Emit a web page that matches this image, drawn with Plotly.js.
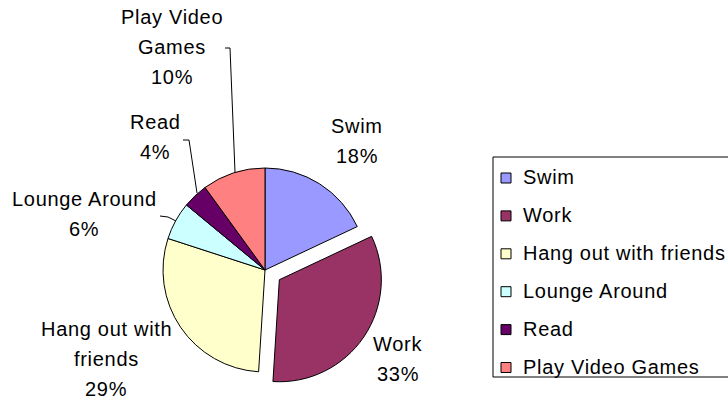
<!DOCTYPE html>
<html>
<head>
<meta charset="utf-8">
<script src="https://cdn.plot.ly/plotly-3.0.1.min.js"></script>
<style>
html,body{margin:0;padding:0;background:#fff;}
#chart{width:728px;height:400px;}
.annotation-text{letter-spacing:0.7px;}
</style>
</head>
<body>
<div id="chart"></div>
<script>
// ---- data ----
const categories = ["Swim", "Work", "Hang out with friends", "Lounge Around", "Read", "Play Video Games"];
const values = [18, 33, 29, 6, 4, 10];
const colors = ["#9999FF", "#993366", "#FFFFCC", "#CCFFFF", "#660066", "#FF8080"];
const pulls = [0, 0.17, 0, 0, 0, 0];
// label line breaks as shown on the chart
const labelLines = [["Swim"], ["Work"], ["Hang out with", "friends"], ["Lounge Around"], ["Read"], ["Play Video", "Games"]];

// ---- layout helpers (pixel -> paper) ----
const W = 728, H = 400;
const px = x => x / W;
const py = y => 1 - y / H;

// label placement (centre x, first-line centre y) in pixels
const labelPos = [[357, 126], [398, 344], [106, 329], [84, 199], [155, 122], [172, 17]];
const lineGap = 30;
const FONT = "Liberation Sans, Arial, sans-serif";

const total = values.reduce((a, b) => a + b, 0);
const annotations = [];
categories.forEach((c, i) => {
  const lines = labelLines[i].concat([Math.round(values[i] / total * 100) + "%"]);
  lines.forEach((t, k) => {
    annotations.push({
      xref: "paper", yref: "paper", x: px(labelPos[i][0]), y: py(labelPos[i][1] + k * lineGap),
      xanchor: "center", yanchor: "middle", showarrow: false, text: t,
      font: {family: FONT, size: 20, color: "#000"}
    });
  });
});

// leader lines
function pathPx(pts) {
  return pts.map((p, j) => (j ? "L" : "M") + px(p[0]) + "," + py(p[1])).join(" ");
}
const leaders = [
  [[225, 48], [230, 48], [235, 172]],
  [[183, 140], [189, 140], [197, 193]],
  [[160, 216], [168, 217], [176, 221]]
];
const shapes = leaders.map(p => ({
  type: "path", xref: "paper", yref: "paper", path: pathPx(p),
  line: {color: "#000", width: 1}
}));

// legend (built from categories & colours); box runs off the right edge
const legLeft = 493, legTop = 157, legBottom = 377, legRight = 760;
shapes.push({type: "path", xref: "paper", yref: "paper",
  path: pathPx([[legRight, legTop], [legLeft, legTop], [legLeft, legBottom], [legRight, legBottom]]),
  line: {color: "#000", width: 1}});
const legStart = 177, legStep = 37.9;
categories.forEach((c, i) => {
  const cy = legStart + i * legStep;
  shapes.push({type: "rect", xref: "paper", yref: "paper",
    x0: px(501), x1: px(511), y0: py(cy + 6), y1: py(cy - 4),
    line: {color: "#000", width: 1}, fillcolor: colors[i]});
  annotations.push({xref: "paper", yref: "paper", x: px(521), y: py(cy),
    xanchor: "left", yanchor: "middle", showarrow: false, text: c,
    font: {family: FONT, size: 20, color: "#000"}});
});

// pie domain: centre (265,270) px, radius 102 px
const cx = 265, cyPie = 270, R = 102;
const half = R * (1 + Math.max(...pulls));

const data = [{
  type: "pie",
  labels: categories,
  values: values,
  sort: false,
  direction: "clockwise",
  rotation: 0,
  pull: pulls,
  marker: {colors: colors, line: {color: "#000", width: 1}},
  textinfo: "none",
  hoverinfo: "label+percent",
  domain: {x: [px(cx - half), px(cx + half)], y: [py(cyPie + half), py(cyPie - half)]}
}];

const layout = {
  width: W, height: H,
  margin: {l: 0, r: 0, t: 0, b: 0},
  paper_bgcolor: "#fff",
  showlegend: false,
  annotations: annotations,
  shapes: shapes,
  font: {family: FONT}
};

Plotly.newPlot("chart", data, layout, {displayModeBar: false, staticPlot: true});
</script>
</body>
</html>
